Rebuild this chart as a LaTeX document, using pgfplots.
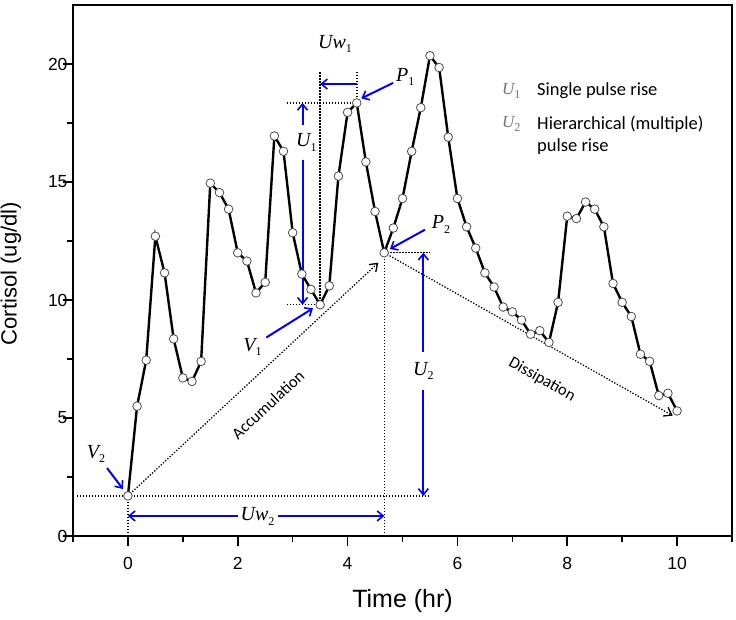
\documentclass[border=0pt]{standalone}
\usepackage{fontspec}
\setmainfont{Liberation Sans}
\newfontfamily\calibri{Carlito}
\newfontfamily\timesf{Liberation Serif}
\usepackage{pgfplots}
\pgfplotsset{compat=1.18}
\usetikzlibrary{arrows.meta}
\definecolor{annblue}{RGB}{0,0,255}
\definecolor{keygrey}{RGB}{115,115,115}

% italic symbol with an upright subscript
\newcommand\sym[2]{{\timesf\itshape #1}\raisebox{-0.4ex}{\timesf\fontsize{12}{12}\selectfont #2}}

\tikzset{
  dots/.style={black, line width=1.3pt, dash pattern=on 1.3pt off 1.7pt},
  barb/.style={-{Straight Barb[length=6pt,width=10pt,line width=1.6pt]}},
  bluearr/.style={annblue, line width=2pt, barb},
  symlab/.style={font=\fontsize{20}{22}\selectfont, inner sep=1pt},
}

\pgfplotstableread{
t      c
0.000  1.70
0.167  5.50
0.333  7.45
0.500  12.70
0.667  11.15
0.833  8.35
1.000  6.70
1.167  6.55
1.333  7.40
1.500  14.95
1.667  14.55
1.833  13.85
2.000  12.00
2.167  11.65
2.333  10.30
2.500  10.75
2.667  16.95
2.833  16.30
3.000  12.85
3.167  11.10
3.333  10.45
3.500  9.80
3.667  10.60
3.833  15.25
4.000  17.95
4.167  18.35
4.333  15.85
4.500  13.75
4.667  12.00
4.833  13.05
5.000  14.30
5.167  16.30
5.333  18.15
5.500  20.35
5.667  19.85
5.833  16.90
6.000  14.30
6.167  13.10
6.333  12.20
6.500  11.15
6.667  10.55
6.833  9.70
7.000  9.50
7.167  9.15
7.333  8.55
7.500  8.70
7.667  8.20
7.833  9.90
8.000  13.55
8.167  13.45
8.333  14.15
8.500  13.85
8.667  13.10
8.833  10.70
9.000  9.90
9.167  9.30
9.333  7.70
9.500  7.40
9.667  5.95
9.833  6.05
10.000 5.30
}\cortisol

\begin{document}
\begin{tikzpicture}
\useasboundingbox (-73pt,-84pt) rectangle (663pt,536pt);
\begin{axis}[
  scale only axis, width=659pt, height=531pt,
  xmin=-1, xmax=11, ymin=0, ymax=22.5,
  xtick={0,2,...,10}, minor xtick={-1,1,3,5,7,9,11},
  ytick={0,5,...,20}, minor ytick={2.5,7.5,12.5,17.5},
  xtick pos=bottom, ytick pos=left, tick align=outside,
  major tick length=10pt, minor tick length=6pt,
  tick style={black, line width=1.6pt},
  axis line style={line width=2pt},
  ticklabel style={font=\fontsize{17.5}{20}\selectfont},
  xticklabel style={yshift=-8pt},
  yticklabel style={xshift=8pt},
  /pgf/number format/assume math mode=true,
  xlabel={Time (hr)}, ylabel={Cortisol (ug/dl)},
  xlabel style={font=\fontsize{25}{28}\selectfont, at={(axis description cs:0.5,-0.1225)}, anchor=center},
  ylabel style={font=\fontsize{22}{25}\selectfont, at={(axis description cs:-0.094,0.494)}, anchor=center},
  clip=false,
]
% guide lines
\draw[dots] (-0.93,1.7) -- (5.5,1.7);
\draw[dots] (0,1.7) -- (0,0);
\draw[dots] (4.67,12) -- (4.67,0);
\draw[dots] (4.67,12) -- (5.5,12);
\draw[dots] (2.89,18.35) -- (4.17,18.35);
\draw[dots] (2.89,9.8) -- (3.5,9.8);
\draw[dots] (3.5,9.8) -- (3.5,19.65);
\draw[dots] (4.17,18.35) -- (4.17,19.65);
\draw[dots, -{Straight Barb[length=7pt,width=10pt,line width=1.3pt]}] (0,1.7) -- (4.56,11.58);
\draw[dots, -{Straight Barb[length=7pt,width=10pt,line width=1.3pt]}] (4.67,12) -- (9.92,5.1);
\node[rotate=43, font=\calibri\fontsize{16.5}{18}\selectfont] at (2.55,5.57) {Accumulation};
\node[rotate=-29.5, font=\calibri\fontsize{16.5}{18}\selectfont] at (7.54,6.63) {Dissipation};

% widths and rises
\draw[bluearr, {Straight Barb[length=6pt,width=10pt,line width=1.6pt]}-] (3.5,19.15) -- (4.17,19.15);
\draw[bluearr] (3.18,17.4) -- (3.18,18.35);
\draw[bluearr] (3.18,15.95) -- (3.18,9.8);
\draw[bluearr] (2.0,0.85) -- (0,0.85);
\draw[bluearr] (2.73,0.85) -- (4.67,0.85);
\draw[bluearr] (5.38,7.8) -- (5.38,12);
\draw[bluearr] (5.38,6.2) -- (5.38,1.7);

% pointers to peaks and valleys
\draw[bluearr] (4.83,19.2) -- (4.25,18.54);
\draw[bluearr] (5.41,12.98) -- (4.77,12.16);
\draw[bluearr] (2.52,8.41) -- (3.37,9.65);
\draw[bluearr] (-0.38,2.88) -- (-0.09,1.99);

\node[symlab] at (3.77,20.86) {\sym{Uw}{1}};
\node[symlab] at (5.05,19.45) {\sym{P}{1}};
\node[symlab] at (3.25,16.68) {\sym{U}{1}};
\node[symlab] at (2.27,8.0) {\sym{V}{1}};
\node[symlab] at (-0.58,3.48) {\sym{V}{2}};
\node[symlab] at (5.7,13.2) {\sym{P}{2}};
\node[symlab] at (2.36,0.83) {\sym{Uw}{2}};
\node[symlab] at (5.38,7.0) {\sym{U}{2}};

% key
\node[symlab, text=keygrey, font=\fontsize{17}{19}\selectfont] at (6.98,18.85) {\sym{U}{1}};
\node[symlab, text=keygrey, font=\fontsize{17}{19}\selectfont] at (6.98,17.46) {\sym{U}{2}};
\node[anchor=west, inner sep=0pt, font=\calibri\fontsize{18.5}{20}\selectfont] at (7.45,18.85) {Single pulse rise};
\node[anchor=west, inner sep=0pt, font=\calibri\fontsize{18.5}{20}\selectfont] at (7.45,17.46) {Hierarchical (multiple)};
\node[anchor=west, inner sep=0pt, font=\calibri\fontsize{18.5}{20}\selectfont] at (7.45,16.51) {pulse rise};

\addplot[black, line width=2.4pt, mark=*, mark size=4.3pt,
  mark options={fill=white, draw=black!70, line width=0.8pt}] table[x=t, y=c] {\cortisol};

% frame
\draw[black, line width=2pt] (rel axis cs:0,0) rectangle (rel axis cs:1,1);
\end{axis}
\end{tikzpicture}
\end{document}
